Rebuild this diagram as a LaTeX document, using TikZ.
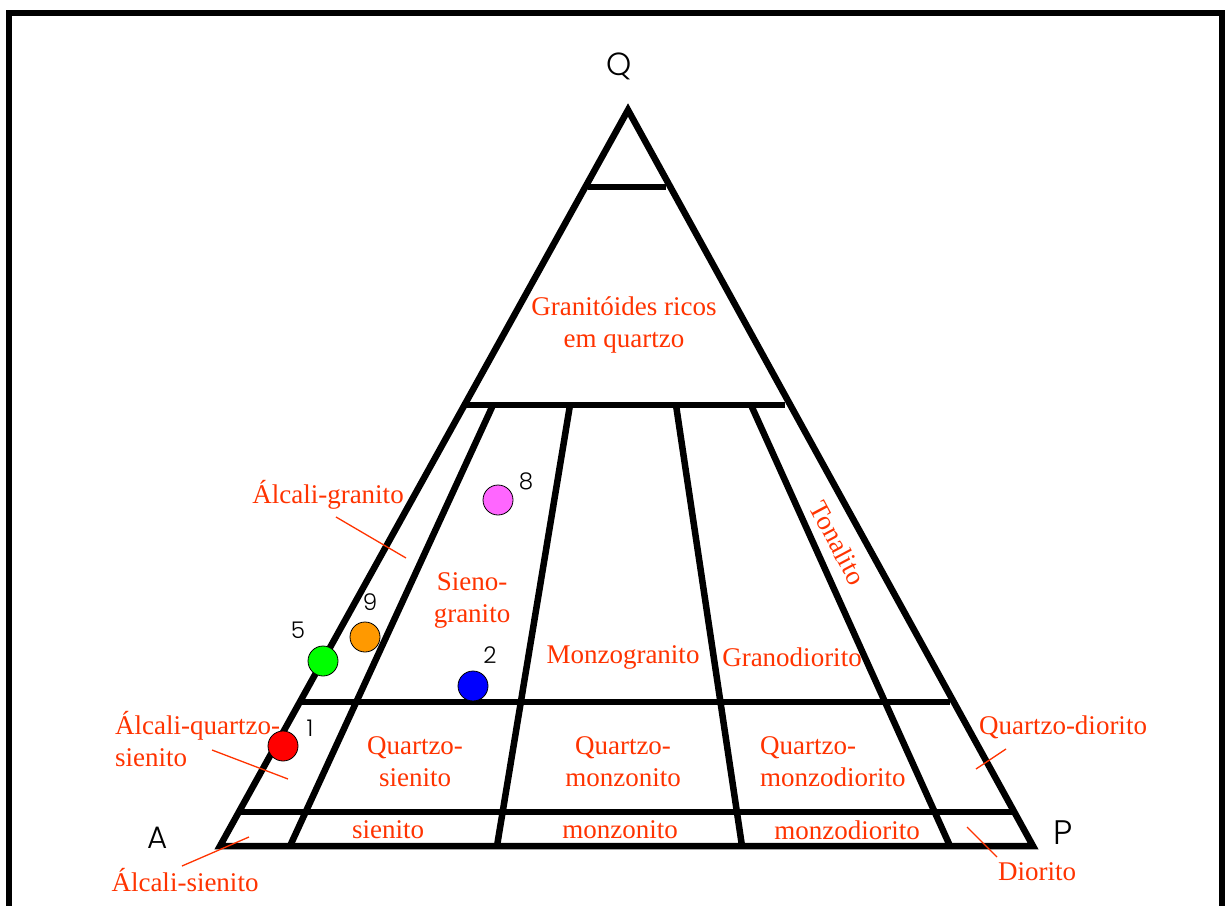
\documentclass[tikz,border=0pt]{standalone}
\usepackage{fontspec}
\setmainfont{Liberation Serif}
\newfontfamily\vertexfont{Poppins Light}
\definecolor{fieldred}{RGB}{255,51,0}
\definecolor{dotpink}{RGB}{255,102,255}
\definecolor{dotorange}{RGB}{255,153,0}

\begin{document}
\begin{tikzpicture}[x=1pt, y=-1pt,
    edge/.style={line width=6.5pt},
    field/.style={text=fieldred, font=\fontsize{27}{32}\selectfont, inner sep=0pt, align=center},
    leader/.style={draw=fieldred, line width=1.3pt},
    vertex/.style={font=\vertexfont\fontsize{32}{34}\selectfont, inner sep=0pt},
    num/.style={font=\vertexfont\fontsize{23}{26}\selectfont, inner sep=0pt},
    sample/.style={circle, draw=black, line width=0.8pt, minimum size=30pt, inner sep=0pt}
]
    \useasboundingbox (0,0) rectangle (1226,905);
    \clip (0,0) rectangle (1226,905);
    \draw[line width=6pt] (9,13) rectangle (1222,960);

    % QAP triangle
    \coordinate (Q) at (628,110);
    \coordinate (A) at (220,846);
    \coordinate (P) at (1033,846);
    \draw[edge] (Q) -- (A) -- (P) -- cycle;

    % Q = 90, 60, 20, 5
    \draw[edge] (588,187) -- (666,187);
    \draw[edge] (462,405) -- (785,405);
    \draw[edge] (300,702) -- (950,702);
    \draw[edge] (240,812) -- (1012,812);

    % P/(A+P) = 10, 35, 65, 90
    \draw[edge] (493,405) -- (290,846);
    \draw[edge] (570,405) -- (497,846);
    \draw[edge] (676,405) -- (742,846);
    \draw[edge] (751,405) -- (950,846);

    \node[vertex] (lq) at (619,66) {Q};
    \node[vertex, font=\vertexfont\fontsize{31}{34}\selectfont] (la) at (158,838) {A};
    \node[vertex, font=\vertexfont\fontsize{34}{36}\selectfont] (lp) at (1063,833) {P};

    \node[field] (grq) at (624,325) {Granitóides ricos\\em quartzo};
    \node[field] (agr) at (328,495) {Álcali-granito};
    \node[field] (sgr) at (472,600) {Sieno-\\granito};
    \node[field] (mgr) at (623,657) {Monzogranito};
    \node[field] (gdr) at (792,657) {Granodiorito};
    \node[field, rotate=-62] (ton) at (838,543) {Tonalito};
    \node[field, align=left, anchor=west] (aqs) at (115,739) {Álcali-quartzo-\\sienito};
    \node[field] (qsi) at (415,762) {Quartzo-\\sienito};
    \node[field] (qmz) at (623,762) {Quartzo-\\monzonito};
    \node[field, align=left, anchor=west] (qmd) at (760,762) {Quartzo-\\monzodiorito};
    \node[field] (qdi) at (1063,727) {Quartzo-diorito};
    \node[field] (sie) at (388,830) {sienito};
    \node[field] (mzn) at (620,830) {monzonito};
    \node[field] (mzd) at (847,830) {monzodiorito};
    \node[field] (asi) at (185,880) {Álcali-sienito};
    \node[field] (dio) at (1037,872) {Diorito};

    % leaders into the narrow fields
    \coordinate (agr-in) at (406,558);
    \coordinate (aqs-in) at (288,779);
    \coordinate (asi-in) at (249,837);
    \coordinate (qdi-in) at (976,769);
    \coordinate (dio-in) at (967,827);
    \draw[leader] (336,517) -- (agr-in);
    \draw[leader] (212,750) -- (aqs-in);
    \draw[leader] (182,866) -- (asi-in);
    \draw[leader] (1006,749) -- (qdi-in);
    \draw[leader] (997,857) -- (dio-in);

    % samples
    \node[sample, fill=dotpink] (s8) at (498,500) {};
    \node[sample, fill=dotorange] (s9) at (365,637) {};
    \node[sample, fill=green] (s5) at (323,661) {};
    \node[sample, fill=blue] (s2) at (473,686) {};
    \node[sample, fill=red] (s1) at (283,746) {};
    \node[num] (n8) at (526,481) {8};
    \node[num] (n9) at (370,602) {9};
    \node[num] (n5) at (298,630) {5};
    \node[num] (n2) at (490,655) {2};
    \node[num] (n1) at (310,728) {1};
\end{tikzpicture}
\end{document}
